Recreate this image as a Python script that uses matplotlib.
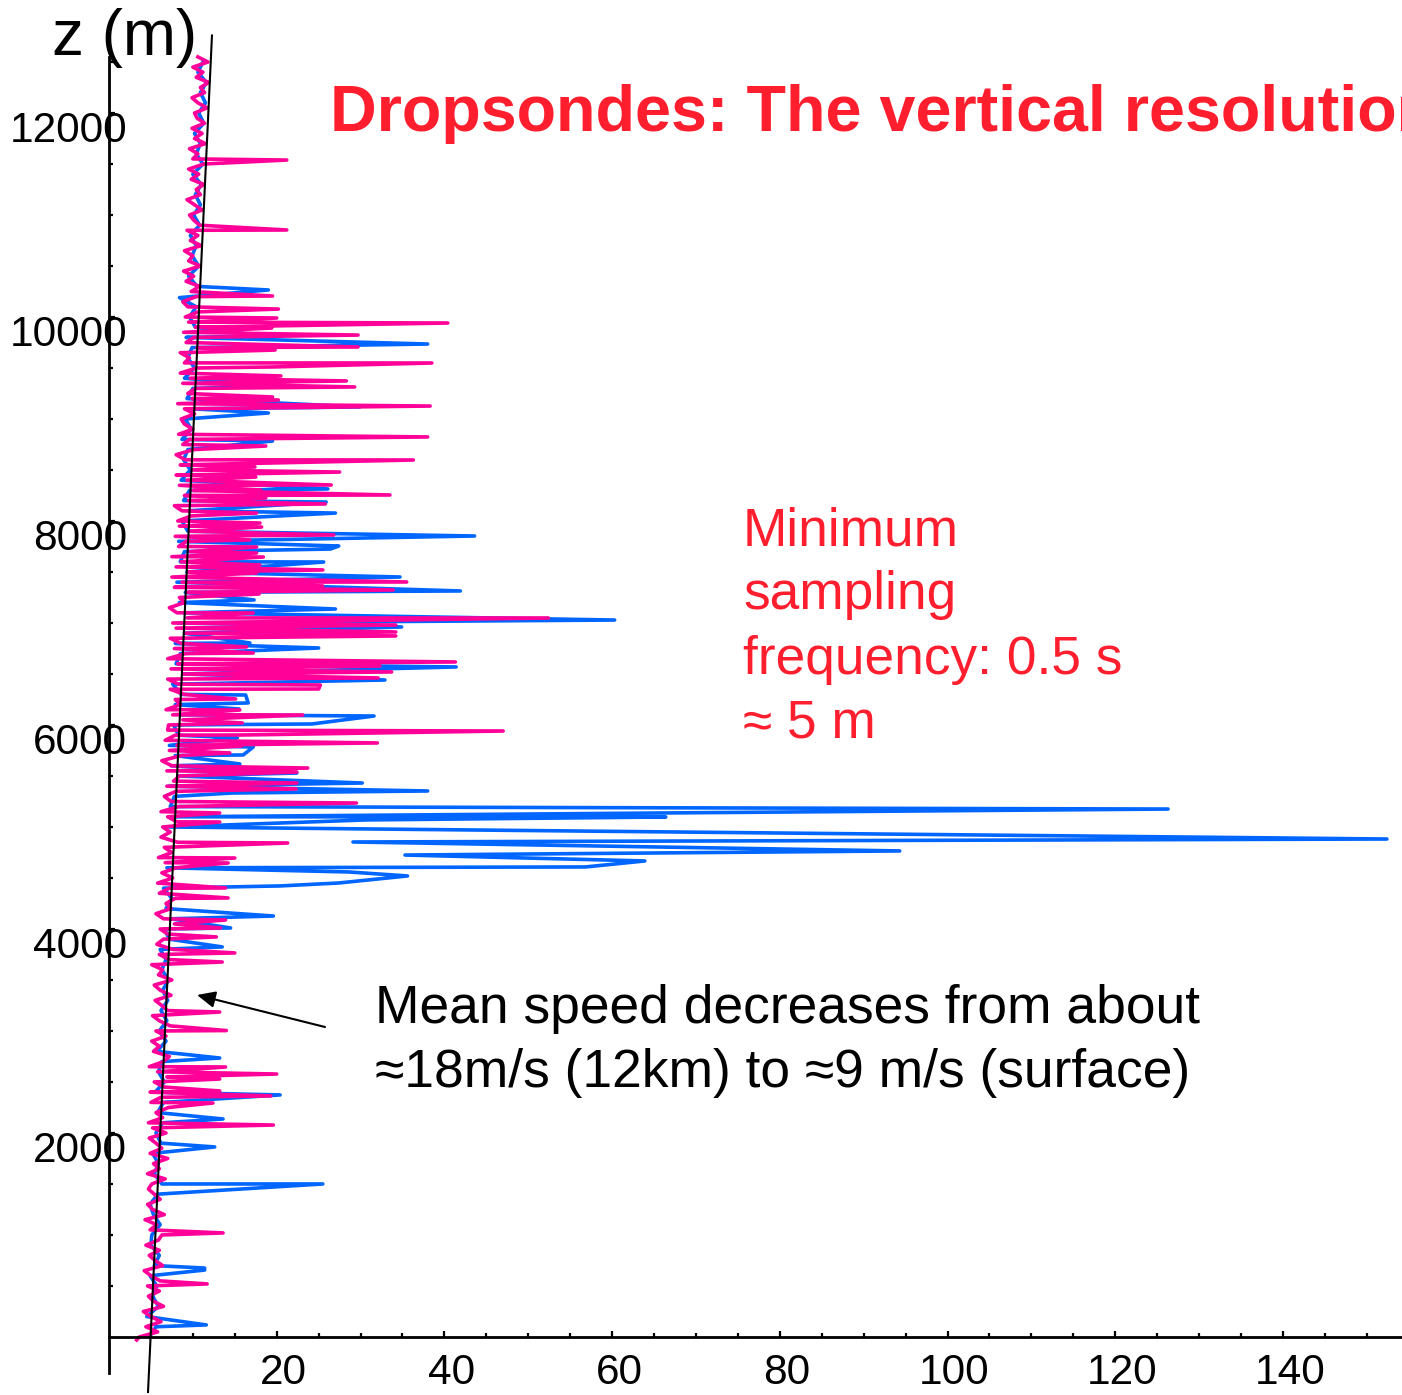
import matplotlib
import numpy as np
from matplotlib import pyplot as plt
from matplotlib.transforms import offset_copy

matplotlib.use("Agg")

plt.rcParams['font.family'] = ['Liberation Sans', 'DejaVu Sans']

PINK = "#ff0099"
BLUE = "#0066ff"
RED = "#fe1e2e"

# core of the pink sonde profile, one value every 50 m from 0 to 12550 m (m/s)
PINK_CORE = [
    3.6, 5.8, 4.4, 6.2, 5.0, 4.1, 6.5, 5.3, 4.7, 6.0,
    4.6, 6.1, 5.0, 4.2, 6.4, 5.5, 4.8, 6.0, 4.4, 5.9,
    6.3, 4.9, 5.7, 4.3, 6.6, 5.2, 4.6, 6.1, 5.4, 4.7,
    5.1, 6.7, 4.6, 6.0, 5.3, 7.0, 4.9, 6.3, 5.6, 4.8,
    6.8, 5.2, 4.7, 6.4, 5.6, 7.1, 5.0, 6.2, 4.9, 6.6,
    5.4, 6.9, 5.8, 4.8, 6.5, 7.2, 5.3, 6.0, 5.1, 6.8,
    5.6, 7.3, 6.0, 5.2, 7.0, 6.3, 5.5, 7.4, 6.1, 5.4,
    7.5, 5.9, 6.4, 5.1, 7.2, 6.0, 7.6, 5.7, 6.5, 7.0,
    6.1, 7.8, 6.5, 5.6, 7.4, 6.8, 7.9, 6.0, 7.2, 5.8,
    7.6, 6.3, 8.0, 6.7, 5.9, 7.5, 6.6, 8.2, 6.2, 7.3,
    6.4, 8.1, 7.0, 6.2, 8.3, 7.4, 6.6, 8.0, 6.9, 7.7,
    8.4, 6.9, 7.5, 6.3, 8.6, 7.2, 8.1, 6.7, 7.9, 7.0,
    7.1, 8.8, 7.6, 6.8, 8.5, 7.9, 9.0, 7.3, 8.3, 7.0,
    8.9, 7.4, 8.2, 7.0, 9.1, 7.8, 8.6, 7.3, 9.2, 8.0,
    7.6, 9.3, 8.1, 7.2, 9.0, 8.4, 9.4, 7.8, 8.7, 7.5,
    9.5, 8.0, 8.6, 7.5, 9.7, 8.3, 9.2, 7.9, 9.6, 8.4,
    8.2, 9.8, 8.7, 7.8, 9.5, 9.0, 10.0, 8.4, 9.3, 8.0,
    9.9, 8.5, 9.1, 8.0, 10.1, 8.8, 9.6, 8.3, 10.0, 9.0,
    8.6, 10.2, 9.0, 8.2, 9.9, 9.4, 10.3, 8.8, 9.7, 8.5,
    10.4, 9.0, 9.6, 8.5, 10.5, 9.2, 10.1, 8.9, 10.3, 9.5,
    9.1, 10.6, 9.4, 8.8, 10.4, 9.8, 10.8, 9.2, 10.1, 8.9,
    10.9, 9.5, 10.0, 9.0, 11.0, 9.7, 10.6, 9.3, 10.8, 10.1,
    9.6, 11.1, 10.2, 9.3, 10.9, 10.4, 11.3, 9.8, 10.7, 9.5,
    11.3, 10.0, 10.6, 9.6, 11.5, 10.2, 11.1, 9.9, 11.4, 10.5,
    10.2, 11.7, 10.6, 9.9, 11.4, 10.9, 11.9, 10.4, 11.2, 10.0,
    11.8, 10.6,
]

# core of the blue sonde profile, one value every 100 m from 0 to 12500 m
BLUE_CORE = [
    4.8, 5.6, 4.5, 5.9, 5.2,
    5.7, 4.9, 5.4, 6.0, 5.0,
    5.1, 6.1, 5.3, 4.9, 5.8,
    6.3, 5.4, 5.9, 5.2, 6.2,
    5.6, 6.4, 5.8, 6.5, 5.5,
    6.6, 5.9, 6.3, 5.7, 6.8,
    6.0, 6.9, 6.2, 7.0, 6.4,
    7.1, 6.3, 6.8, 6.1, 7.2,
    6.6, 7.4, 6.8, 7.5, 6.5,
    np.nan, 6.9, np.nan, np.nan, np.nan,
    7.2, 7.9, 7.3, 7.8, 7.1,
    8.2, 7.4, 7.9, 7.2, 8.3,
    7.7, 8.5, 7.9, 8.6, 7.6,
    8.8, 8.0, 8.5, 7.9, 9.0,
    8.2, 9.0, 8.4, 9.1, 8.1,
    9.3, 8.5, 9.0, 8.3, 9.4,
    8.7, 9.5, 8.9, 9.6, 8.6,
    9.7, 8.9, 9.4, 8.7, 9.8,
    9.1, 9.9, 9.3, 10.0, 9.0,
    10.2, 9.4, 9.9, 9.2, 10.3,
    9.6, 10.4, 9.8, 10.5, 9.5,
    10.7, 9.9, 10.4, 9.7, 10.8,
    10.1, 10.9, 10.3, 11.0, 10.0,
    11.2, 10.4, 10.9, 10.2, 11.3,
    10.7, 11.5, 10.9, 11.6, 10.6,
    11.2,
]

# isolated samples (spikes) of each sonde: height (m), speed (m/s)
PINK_SPIKE_Z = [11539, 10853, 10206, 10078, 9990, 9941, 9892, 9823, 9706, 9676,
                9549, 9510, 9422, 9373, 9314, 9216, 9186, 9127, 8824, 8735,
                8598, 8530, 8480, 8431, 8353, 8304, 8255, 8225, 8167, 8078,
                7980, 7941, 7863, 7814, 7745, 7686, 7647, 7569, 7520, 7490,
                7402, 7363, 7324, 7284, 7098, 7049, 6980, 6912, 6873, 6765,
                6706, 6618, 6578, 6520, 6461, 6392, 6353, 6255, 6147, 6098,
                6020, 5941, 5902, 5824, 5794, 5726, 5578, 5539, 5431, 5373,
                5235, 5137, 5049, 4843, 4696, 4647, 4402, 4304, 4088, 4010,
                3922, 3765, 3676, 3186, 3004, 2647, 2578, 2529, 2412, 2363,
                2294, 2078, 1020, 520, -30]
PINK_SPIKE_V = [21.2, 21.2, 19.5, 20.2, 20.0, 40.4, 19.4, 29.7, 29.7, 19.8,
                38.5, 19.4, 20.5, 28.3, 29.3, 19.5, 20.2, 38.3, 38.0, 18.7,
                36.3, 17.4, 27.5, 17.5, 26.5, 18.1, 33.5, 18.7, 25.8, 17.6,
                18.0, 18.2, 26.8, 16.8, 17.6, 17.6, 18.4, 18.0, 25.5, 17.6,
                35.5, 25.5, 33.9, 17.9, 17.2, 52.4, 34.2, 34.2, 34.2, 16.4,
                17.2, 41.3, 32.3, 33.7, 32.1, 25.2, 25.0, 15.1, 15.6, 23.1,
                15.9, 47.0, 16.0, 32.0, 15.8, 14.4, 23.7, 22.4, 22.4, 22.3,
                29.5, 13.2, 13.2, 21.3, 15.0, 14.2, 13.9, 14.2, 13.9, 13.3,
                12.8, 15.0, 13.5, 13.2, 14.0, 13.9, 20.0, 13.2, 13.2, 19.3,
                12.4, 19.6, 13.6, 11.7, 3.3]

BLUE_SPIKE_Z = [10265, 10190, 9814, 9735, 9324, 9118, 9059, 8784, 8314, 8186,
                8078, 7853, 7755, 7725, 7598, 7451, 7314, 7226, 7137, 7029,
                6961, 6804, 6755, 6569, 6441, 6294, 6216, 6157, 6088, 6010,
                5873, 5784, 5706, 5618, 5529, 5431, 5353, 5333, 5176, 5098,
                5069, 4882, 4853, 4765, 4725, 4667, 4608, 4559, 4520, 4451,
                4422, 4127, 4010, 3824, 2735, 2373, 2137, 1863, 1500, 676,
                656, 118]
BLUE_SPIKE_V = [19.0, 8.4, 18.3, 38.0, 19.4, 29.9, 19.0, 19.5, 26.1, 25.9,
                27.0, 43.6, 27.4, 26.4, 25.6, 34.7, 41.9, 17.3, 27.0, 60.3,
                34.9, 16.8, 25.0, 41.4, 32.9, 16.3, 16.6, 15.5, 31.6, 24.2,
                15.3, 17.2, 16.0, 15.6, 22.4, 30.2, 38.0, 14.7, 126.3, 66.4,
                30.6, 152.4, 29.1, 94.3, 35.3, 63.9, 56.8, 28.6, 35.6, 27.4,
                20.4, 19.6, 14.5, 13.5, 13.2, 20.4, 13.6, 12.6, 25.5, 11.4,
                11.4, 11.6]

# linear mean-speed fit
FIT_Z = [-540, 12760]
FIT_V = [4.65, 12.28]

X_TICKS = [20, 40, 60, 80, 100, 120, 140]
Y_TICKS = [2000, 4000, 6000, 8000, 10000, 12000]

TITLE = "Dropsondes: The vertical resolution"
NOTE_SAMPLING = ["Minimum", "sampling", "frequency: 0.5 s", "\u2248 5 m"]
NOTE_MEAN = ["Mean speed decreases from about",
             "\u224818m/s (12km) to \u22489 m/s (surface)"]


def profile(core, step, spike_z, spike_v):
    core = np.asarray(core, dtype=float)
    core_z = np.arange(len(core)) * step
    z = np.concatenate([core_z, spike_z])
    v = np.concatenate([core, spike_v])
    keep = ~np.isnan(v)
    z, v = z[keep], v[keep]
    order = np.argsort(-z, kind="stable")
    return v[order], z[order]


fig = plt.figure(figsize=(14.02, 13.95), dpi=100)
ax = fig.add_axes([0, 0, 1, 1])
ax.set_xlim(-13.0, 154.2)
ax.set_ylim(-569, 13108)

blue_v, blue_z = profile(BLUE_CORE, 100, BLUE_SPIKE_Z, BLUE_SPIKE_V)
pink_v, pink_z = profile(PINK_CORE, 50, PINK_SPIKE_Z, PINK_SPIKE_V)
ax.plot(blue_v, blue_z, color=BLUE, lw=2.6, solid_joinstyle="round")
ax.plot(pink_v, pink_z, color=PINK, lw=2.6, solid_joinstyle="round")
ax.plot(FIT_V, FIT_Z, color="black", lw=1.5)

# Mathematica-like axes crossing at the origin
for side in ("top", "right"):
    ax.spines[side].set_visible(False)
ax.spines["left"].set_position(("data", 0))
ax.spines["bottom"].set_position(("data", 0))
ax.spines["left"].set_bounds(-353, 12549)
ax.spines["bottom"].set_bounds(0, 154.2)
for side in ("left", "bottom"):
    ax.spines[side].set_linewidth(2.0)

ax.set_xticks(X_TICKS)
ax.set_xticks([x for x in range(5, 155, 5) if x not in X_TICKS], minor=True)
ax.set_yticks(Y_TICKS)
ax.set_yticks([z for z in range(500, 12600, 500) if z not in Y_TICKS], minor=True)
ax.tick_params(which="both", direction="in", width=1.6, labelleft=False, labelbottom=False)
ax.tick_params(which="major", length=4.5)
ax.tick_params(which="minor", length=3)

ylab = offset_copy(ax.transData, fig=fig, x=18, y=-18, units="dots")
for z in Y_TICKS:
    ax.text(0, z, str(z), transform=ylab, ha="right", va="center", fontsize=30.5)
xlab = offset_copy(ax.transData, fig=fig, x=7, y=-36, units="dots")
for x in X_TICKS:
    ax.text(x, 0, str(x), transform=xlab, ha="center", va="center", fontsize=30.5)

W, H = 1402, 1395
fig.text(52 / W, 1 - 55 / H, "z (m)", fontsize=46, va="baseline", ha="left")
fig.text(330 / W, 1 - 131 / H, TITLE, fontsize=46.5, fontweight="bold",
         color=RED, va="baseline", ha="left")

for i, line in enumerate(NOTE_SAMPLING):
    fig.text(743 / W, 1 - (545 + 64.3 * i) / H, line, fontsize=38.3,
             color=RED, va="baseline", ha="left")
for i, line in enumerate(NOTE_MEAN):
    fig.text(375 / W, 1 - (1023 + 64 * i) / H, line, fontsize=38.4,
             color="black", va="baseline", ha="left")

ax.annotate("", xy=(197, H - 995), xytext=(325, H - 1027),
            xycoords="figure pixels", textcoords="figure pixels",
            arrowprops=dict(arrowstyle="-|>,head_length=0.55,head_width=0.25",
                            mutation_scale=20, lw=1.5, color="black",
                            shrinkA=0, shrinkB=0))

fig.savefig("out.png", dpi=100)
